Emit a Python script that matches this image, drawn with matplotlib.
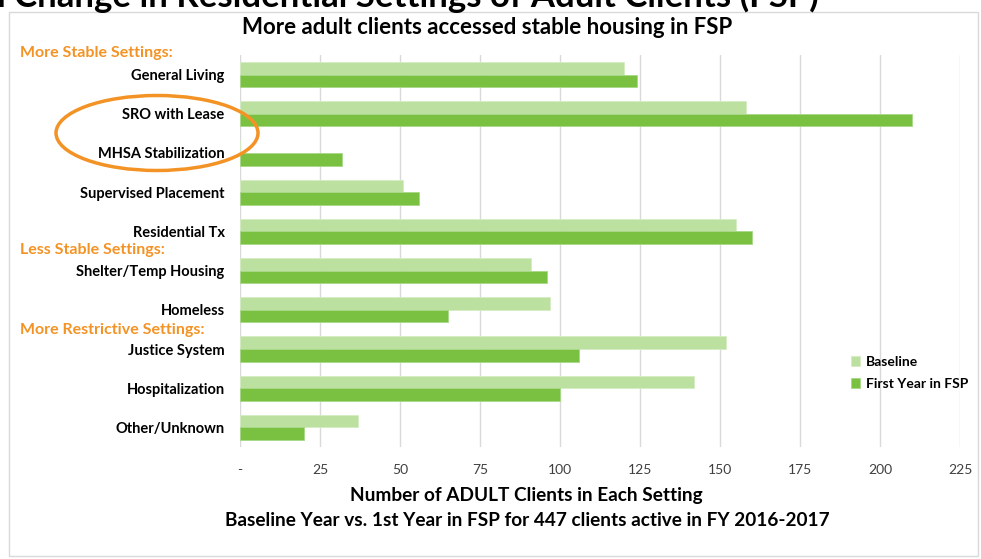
import matplotlib.pyplot as plt
from matplotlib.patches import Ellipse, Rectangle
import numpy as np

plt.rcParams['font.family'] = ['Lato', 'DejaVu Sans']

settings = ['General Living', 'SRO with Lease', 'MHSA Stabilization',
            'Supervised Placement', 'Residential Tx', 'Shelter/Temp Housing',
            'Homeless', 'Justice System', 'Hospitalization', 'Other/Unknown']
baseline = [120, 158, 0, 51, 155, 91, 97, 152, 142, 37]
first_year = [124, 210, 32, 56, 160, 96, 65, 106, 100, 20]
x_ticks = [0, 25, 50, 75, 100, 125, 150, 175, 200, 225]
x_ticklabels = ['-'] + [str(t) for t in x_ticks[1:]]

groups = [('More Stable Settings:', 53), ('Less Stable Settings:', 250),
          ('More Restrictive Settings:', 330)]

light = '#BBE0A0'
dark = '#7AC142'
orange = '#F39325'

W, H = 981, 559
fig = plt.figure(figsize=(W / 100, H / 100), dpi=100)

def fx(px):
    return px / W

def fy(py):
    return 1 - py / H

# outer frame of the chart box
fig.patches.append(Rectangle((fx(9), fy(556)), fx(978) - fx(9), fy(12) - fy(556),
                             transform=fig.transFigure, fill=False,
                             edgecolor='#d9d9d9', lw=1))

# slide heading, cut off by the top edge as in the source screenshot
fig.text(fx(-14), fy(7), 'n Change in Residential Settings of Adult Clients (FSP)',
         fontsize=25, fontweight='bold', ha='left', va='baseline', color='black')

ax = fig.add_axes([fx(240), fy(447), fx(960) - fx(240), fy(55) - fy(447)])

y = np.arange(len(settings))
h = 0.32
ax.barh(y - h / 2, baseline, height=h, color=light, edgecolor='#d4ecc4', lw=0.6,
        label='Baseline')
ax.barh(y + h / 2, first_year, height=h, color=dark, edgecolor='#a8d888', lw=0.6,
        label='First Year in FSP')

ax.set_xlim(0, 225)
ax.set_ylim(len(settings) - 0.5, -0.5)
ax.set_xticks(x_ticks)
ax.set_xticklabels(x_ticklabels, fontsize=10, color='#404040')
ax.set_yticks(y)
ax.set_yticklabels(settings, fontsize=10.5, fontweight='bold')
ax.tick_params(axis='both', length=0)
ax.tick_params(axis='x', pad=12)
ax.tick_params(axis='y', pad=11)
ax.grid(axis='x', color='#d9d9d9', lw=1)
ax.set_axisbelow(True)
for s in ax.spines.values():
    s.set_visible(False)

fig.text(fx(487), fy(27), 'More adult clients accessed stable housing in FSP',
         fontsize=16, fontweight='bold', ha='center', va='center')

for label, py in groups:
    fig.text(fx(20), fy(py), label, fontsize=11.5, fontweight='bold',
             color=orange, ha='left', va='center')

fig.patches.append(Ellipse((fx(157), fy(133)), fx(202), 75 / H,
                           transform=fig.transFigure, fill=False,
                           edgecolor=orange, lw=2.5))

ax.legend(loc='upper left', bbox_to_anchor=(fx(838 - 240) / fx(720), 0.265),
          frameon=False, prop={'weight': 'bold', 'size': 10},
          handlelength=0.7, handleheight=0.7, handletextpad=0.4,
          labelspacing=0.75)

fig.text(fx(526), fy(496), 'Number of ADULT Clients in Each Setting',
         fontsize=13.7, fontweight='bold', ha='center', va='center')
fig.text(fx(527), fy(521),
         'Baseline Year vs. 1st Year in FSP for 447 clients active in FY 2016-2017',
         fontsize=13.7, fontweight='bold', ha='center', va='center')

fig.savefig('out.png', dpi=100)
